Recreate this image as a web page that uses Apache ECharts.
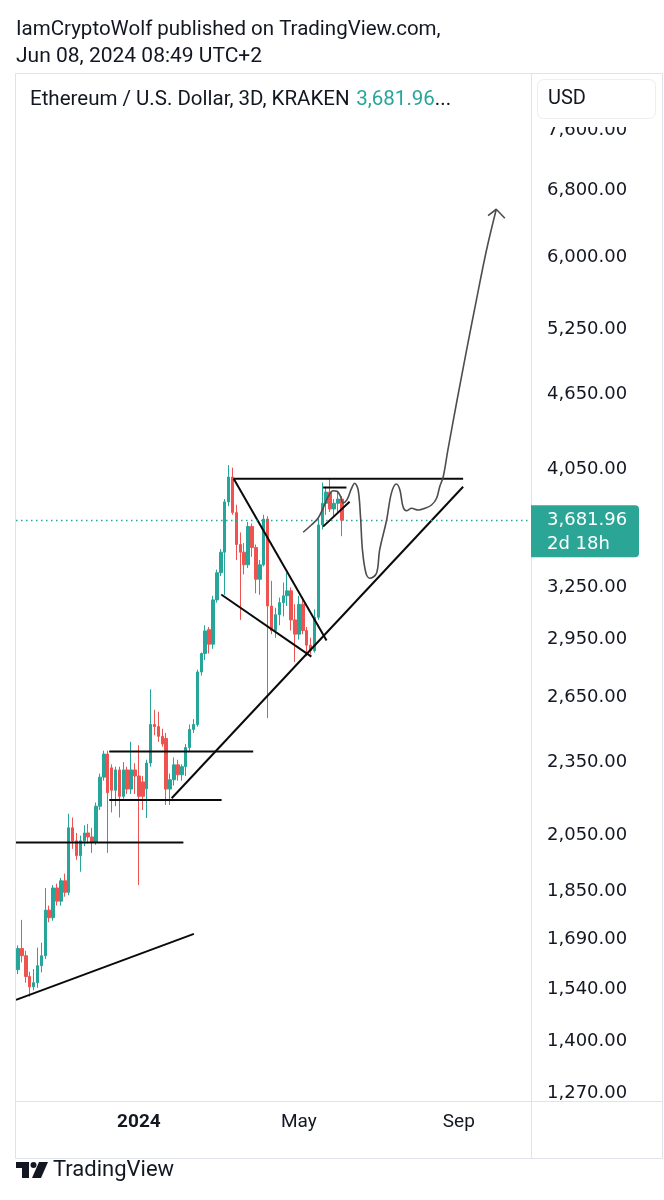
<!DOCTYPE html>
<html><head><meta charset="utf-8">
<script src="https://cdn.jsdelivr.net/npm/echarts@6/dist/echarts.min.js"></script>
<style>html,body{margin:0;padding:0;background:#fff}#c{width:664px;height:1200px}</style>
</head><body><div id="c"></div>
<script>
// ---------- data ----------
const startDate = '2023-10-02';     // first 3D candle
const candleStepDays = 3;
const categoryCount = 132;          // visible bars incl. empty future space
const lastPrice = 3681.96;

const opens  = [1598,1662,1640,1578,1548,1560,1610,1640,1785,1760,1860,1815,1885,1845,2080,2030,1975,2030,2060,2045,
                2025,2165,2285,2385,2325,2230,2316,2205,2316,2235,2316,2290,2265,2236,2346,2520,2510,2465,2455,2235,
                2274,2338,2295,2330,2414,2497,2520,2778,2875,3005,2925,3176,3340,3470,3810,3990,3735,3520,3470,3390,
                3640,3500,3300,3390,3690,3140,3000,3090,3160,3200,3230,3060,2980,3150,3000,2920,2890,3075,3650,3800,
                3880,3760,3800,3830];
const highs  = [1672,1753,1655,1592,1600,1665,1680,1860,1800,1870,1875,1895,1910,2135,2120,2060,2050,2090,2095,2080,
                2180,2300,2400,2400,2340,2330,2330,2350,2330,2440,2345,2425,2290,2360,2690,2590,2580,2500,2480,2300,
                2370,2360,2340,2430,2520,2545,2790,2880,3030,3020,3200,3360,3490,3830,4080,4060,3790,3600,3530,3670,
                3660,3520,3420,3720,3710,3290,3130,3190,3280,3340,3250,3150,3200,3180,3020,2960,3120,3700,3950,3920,
                3980,3830,3880,3850];
const lows   = [1585,1620,1560,1520,1538,1545,1590,1630,1745,1750,1800,1800,1830,1835,2000,1960,1917,2010,2020,1985,
                2015,2150,2270,1985,2140,2165,2120,2195,2215,2215,2215,1870,2150,2118,2330,2470,2440,2418,2170,2170,
                2250,2270,2270,2290,2400,2480,2510,2760,2840,2875,2900,3160,3320,3206,3780,3720,3420,3060,3330,3370,
                3440,3215,3206,3380,2550,2980,2960,3030,3080,3140,3000,2830,2950,2980,2860,2870,2880,3060,3620,3720,
                3740,3700,3740,3575];
const closes = [1662,1640,1578,1548,1560,1610,1640,1785,1760,1860,1815,1885,1845,2080,2030,1975,2030,2060,2045,2025,
                2165,2285,2385,2220,2230,2316,2205,2316,2235,2316,2290,2205,2205,2346,2520,2510,2465,2430,2235,2274,
                2338,2295,2330,2414,2497,2520,2778,2875,2998,2925,3176,3340,3470,3810,3990,3735,3520,3470,3390,3640,
                3500,3300,3390,3690,3140,3000,3090,3160,3200,3230,3060,2980,3150,3000,2920,2890,3075,3650,3800,3880,
                3760,3800,3830,3681.96];

const yTickValues = [1270,1400,1540,1690,1850,2050,2350,2650,2950,3250,4050,4650,5250,6000,6800,7600];
const xTicks = [['2024-01-03','2024'],['2024-05-05','May'],['2024-09-05','Sep']];

// hand drawings: [bar index, price]
const trendLowLeft    = [[-0.5,1511],[45.1,1708]];
const levelLow        = [[-0.5,2024],[42.4,2024]];
const rangeTop        = [[23.4,2396],[60.3,2396]];
const rangeBottom     = [[23.4,2190],[52.2,2190]];
const triangleSupport = [[39.4,2197],[114.1,3919]];
const triangleTop     = [[55.3,3978],[114.1,3978]];
const wedgeTop        = [[55.3,3978],[79.1,2945]];
const wedgeBottom     = [[52.1,3208],[75.2,2858]];
const flagSupport     = [[78.2,3639],[85.0,3811]];
const flagTop         = [[78.2,3913],[84.2,3913]];
const projectionPath  = [[73.1,3601],[75.2,3650],[76.9,3696],[78.2,3765],[79.5,3847],[80.8,3890],[81.8,3886],
  [82.7,3847],[83.3,3803],[84.3,3824],[85.5,3907],[86.3,3944],[87.2,3895],[87.8,3707],[88.3,3484],[89.2,3337],
  [90.2,3306],[91.9,3337],[92.7,3484],[94.5,3684],[95.7,3871],[97.0,3939],[97.9,3895],[98.7,3776],[99.6,3748],
  [100.9,3765],[102.6,3753],[104.3,3765],[106.0,3788],[107.3,3836],[108.1,3919],[109.0,3992],[110.2,4196],
  [112.4,4576],[115.0,5052],[117.5,5543],[120.1,6083],[122.6,6561]];
const projectionArrow = [[120.5,6485],[122.6,6561],[124.8,6452]];

// ---------- build ----------
const categories = [];
const d0 = new Date(startDate + 'T00:00:00Z').getTime();
for (let i = 0; i < categoryCount; i++) {
  categories.push(new Date(d0 + i * candleStepDays * 86400000).toISOString().slice(0, 10));
}
const tickMap = {};
xTicks.forEach(t => tickMap[t[0]] = t[1]);
const candleData = opens.map((o, i) => [o, closes[i], lows[i], highs[i]]);

const UP = '#26a69a', DOWN = '#ef5350', TXT = '#131722', BORDER = '#e0e3eb';
const fmt = v => Number(v).toLocaleString('en-US', {minimumFractionDigits: 2, maximumFractionDigits: 2});

const chart = echarts.init(document.getElementById('c'), null, {renderer: 'canvas'});
const blackLines = [trendLowLeft, levelLow, rangeTop, rangeBottom, triangleSupport, triangleTop,
                    wedgeTop, wedgeBottom, flagSupport, flagTop];

const option = {
  animation: false,
  backgroundColor: '#fff',
  grid: {left: 16, right: 133, top: 75, bottom: 99, containLabel: false},
  xAxis: [{
    type: 'category', data: categories, boundaryGap: true,
    axisLine: {show: false}, axisTick: {show: false}, splitLine: {show: false},
    axisLabel: {
      interval: (idx, val) => tickMap[val] !== undefined,
      formatter: val => tickMap[val] === '2024' ? '{b|2024}' : (tickMap[val] || ''),
      margin: 12, fontSize: 19, fontFamily: 'Roboto', color: TXT,
      rich: {b: {fontSize: 19, fontFamily: 'Roboto', fontWeight: 'bold', color: TXT}}
    }
  }, {
    type: 'value', show: false, min: -0.5, max: categoryCount - 0.5
  }],
  yAxis: [{
    type: 'log', logBase: 10, position: 'right', min: 1252.2, max: 8419,
    axisLine: {show: false}, axisTick: {show: false}, splitLine: {show: false},
    axisLabel: {
      customValues: yTickValues, formatter: v => fmt(v),
      margin: 16, fontSize: 18, fontFamily: 'DejaVu Sans', color: TXT
    }
  }],
  series: [{
    type: 'candlestick', xAxisIndex: 0, yAxisIndex: 0, data: candleData, barWidth: 3,
    itemStyle: {color: UP, color0: DOWN, borderColor: UP, borderColor0: DOWN, borderWidth: 1},
    markLine: {
      silent: true, symbol: 'none', animation: false,
      label: {show: false},
      lineStyle: {color: UP, type: [1.5, 3.5], width: 1.3},
      data: [{yAxis: lastPrice}]
    },
    z: 2
  }].concat(blackLines.map(d => ({
    type: 'line', xAxisIndex: 1, yAxisIndex: 0, data: d, symbol: 'none', silent: true,
    lineStyle: {color: '#0a0a0a', width: 2}, z: 4
  }))).concat([{
    type: 'line', xAxisIndex: 1, yAxisIndex: 0, data: projectionPath, symbol: 'none', silent: true,
    smooth: 0.35, lineStyle: {color: '#4d4d4d', width: 1.6}, z: 5
  }, {
    type: 'line', xAxisIndex: 1, yAxisIndex: 0, data: projectionArrow, symbol: 'none', silent: true,
    lineStyle: {color: '#4d4d4d', width: 1.6}, z: 5
  }])
};
chart.setOption(option);

const py = chart.convertToPixel({yAxisIndex: 0}, lastPrice);

chart.setOption({
  graphic: [
    {type: 'text', x: 16, y: 30, z: 10,
     style: {text: 'IamCryptoWolf published on TradingView.com,', font: '20.5px Roboto', fill: TXT, verticalAlign: 'middle'}},
    {type: 'text', x: 16, y: 57, z: 10,
     style: {text: 'Jun 08, 2024 08:49 UTC+2', font: '21px Roboto', fill: TXT, verticalAlign: 'middle'}},
    // frame
    {type: 'rect', z: 40, shape: {x: 15.5, y: 73.5, width: 647, height: 1085},
     style: {fill: null, stroke: BORDER, lineWidth: 1}},
    {type: 'line', z: 40, shape: {x1: 531.5, y1: 73.5, x2: 531.5, y2: 1158.5}, style: {stroke: BORDER, lineWidth: 1}},
    {type: 'rect', z: 39, shape: {x: 532, y: 1102, width: 130, height: 56}, style: {fill: '#fff'}},
    {type: 'rect', z: 39, shape: {x: 532, y: 74, width: 130, height: 53}, style: {fill: '#fff'}},
    {type: 'line', z: 40, shape: {x1: 15.5, y1: 1101.5, x2: 662.5, y2: 1101.5}, style: {stroke: BORDER, lineWidth: 1}},
    // USD button
    {type: 'rect', z: 41, shape: {x: 537.5, y: 79.5, width: 118, height: 39, r: 6},
     style: {fill: '#fff', stroke: '#eceef2', lineWidth: 1}},
    {type: 'text', z: 42, x: 548, y: 99,
     style: {text: 'USD', font: '20px Roboto', fill: TXT, verticalAlign: 'middle'}},
    // legend
    {type: 'text', z: 42, x: 30, y: 100,
     style: {
       text: '{a|Ethereum / U.S. Dollar, 3D, KRAKEN}  {b|3,681.96}{a|...}', verticalAlign: 'middle',
       rich: {a: {font: '20.5px Roboto', fill: TXT}, b: {font: '20.5px Roboto', fill: UP}}
     }},
    // last price label
    {type: 'rect', z: 45, shape: {x: 531, y: py - 15, width: 108, height: 52, r: [0, 4, 4, 0]},
     style: {fill: '#2aa596'}},
    {type: 'text', z: 46, x: 547, y: py,
     style: {text: fmt(lastPrice), font: '18px "DejaVu Sans"', fill: '#fff', verticalAlign: 'middle'}},
    {type: 'text', z: 46, x: 547, y: py + 24,
     style: {text: '2d 18h', font: '18px "DejaVu Sans"', fill: '#fff', verticalAlign: 'middle'}},
    // TradingView logo
    {type: 'rect', z: 42, shape: {x: 16, y: 1162, width: 13, height: 6}, style: {fill: TXT}},
    {type: 'rect', z: 42, shape: {x: 22, y: 1162, width: 7, height: 16}, style: {fill: TXT}},
    {type: 'circle', z: 42, shape: {cx: 33.5, cy: 1165, r: 3}, style: {fill: TXT}},
    {type: 'polygon', z: 42, shape: {points: [[39, 1162], [48, 1162], [41, 1178], [32, 1178]]}, style: {fill: TXT}},
    {type: 'text', z: 42, x: 53, y: 1170,
     style: {text: 'TradingView', font: '22px Roboto', fill: TXT, verticalAlign: 'middle'}}
  ]
});
</script>
</body></html>
